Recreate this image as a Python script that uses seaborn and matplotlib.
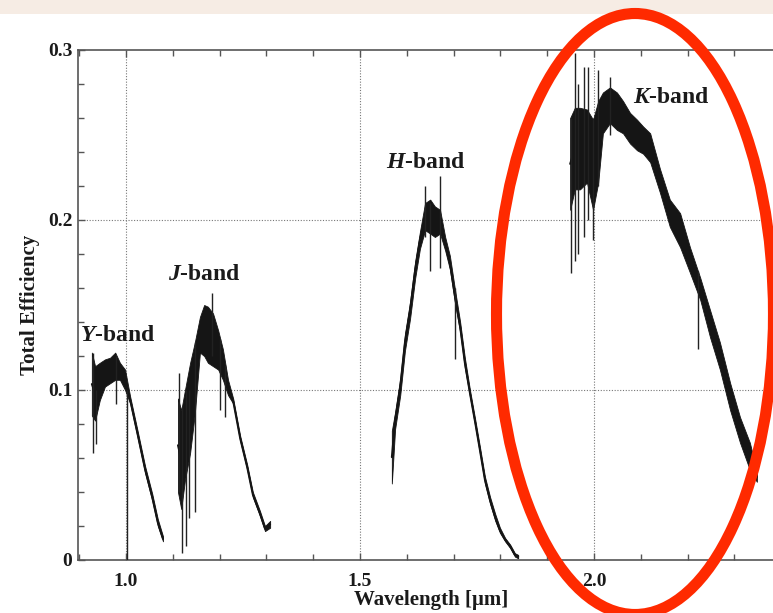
import numpy as np
import pandas as pd
import matplotlib
matplotlib.use("Agg")
import matplotlib.pyplot as plt
from matplotlib.patches import Ellipse, Rectangle
import seaborn as sns

# ---------------- data ----------------
wl_y = [0.927, 0.934, 0.944, 0.955, 0.966, 0.977, 0.987, 0.998, 1.009, 1.024, 1.041, 1.056, 1.068, 1.079]
hi_y = [0.122, 0.114, 0.116, 0.118, 0.119, 0.122, 0.116, 0.112, 0.096, 0.077, 0.055, 0.039, 0.024, 0.014]
lo_y = [0.085, 0.082, 0.094, 0.102, 0.104, 0.106, 0.106, 0.100, 0.092, 0.073, 0.051, 0.035, 0.020, 0.011]

wl_j = [1.111, 1.118, 1.126, 1.137, 1.147, 1.158, 1.167, 1.175, 1.186, 1.197, 1.207, 1.218, 1.229,
        1.244, 1.259, 1.271, 1.286, 1.297, 1.308]
hi_j = [0.095, 0.088, 0.100, 0.116, 0.128, 0.143, 0.150, 0.149, 0.145, 0.135, 0.124, 0.106, 0.095,
        0.073, 0.056, 0.040, 0.029, 0.020, 0.023]
lo_j = [0.040, 0.030, 0.047, 0.063, 0.086, 0.122, 0.120, 0.116, 0.114, 0.112, 0.106, 0.097, 0.092,
        0.070, 0.053, 0.037, 0.026, 0.017, 0.019]

wl_h = [1.568, 1.575, 1.586, 1.596, 1.607, 1.618, 1.628, 1.639, 1.650, 1.660, 1.671, 1.682, 1.692,
        1.703, 1.714, 1.724, 1.735, 1.746, 1.756, 1.767, 1.778, 1.789, 1.799, 1.810, 1.821, 1.831, 1.838]
hi_h = [0.076, 0.087, 0.107, 0.133, 0.152, 0.176, 0.193, 0.210, 0.212, 0.208, 0.206, 0.190, 0.179,
        0.159, 0.140, 0.119, 0.100, 0.083, 0.067, 0.049, 0.037, 0.027, 0.019, 0.013, 0.009, 0.004, 0.003]
lo_h = [0.045, 0.077, 0.097, 0.123, 0.142, 0.166, 0.183, 0.194, 0.192, 0.190, 0.192, 0.182, 0.171,
        0.151, 0.134, 0.113, 0.096, 0.079, 0.063, 0.045, 0.033, 0.023, 0.016, 0.011, 0.007, 0.002, 0.001]

wl_k = [1.949, 1.959, 1.970, 1.985, 1.998, 2.009, 2.019, 2.034, 2.049, 2.062, 2.077, 2.092, 2.105,
        2.120, 2.141, 2.162, 2.184, 2.205, 2.227, 2.248, 2.269, 2.291, 2.312, 2.333, 2.348]
hi_k = [0.260, 0.266, 0.266, 0.265, 0.259, 0.270, 0.275, 0.278, 0.275, 0.270, 0.263, 0.259, 0.255,
        0.251, 0.230, 0.212, 0.204, 0.184, 0.166, 0.147, 0.128, 0.104, 0.084, 0.069, 0.052]
lo_k = [0.206, 0.218, 0.218, 0.222, 0.206, 0.222, 0.251, 0.257, 0.253, 0.251, 0.245, 0.241, 0.239,
        0.234, 0.216, 0.196, 0.184, 0.169, 0.153, 0.131, 0.112, 0.088, 0.069, 0.053, 0.046]

# isolated noise spikes: wavelength, bottom, top
spk_wl = [0.929, 0.936, 0.978, 1.002, 1.113, 1.120, 1.128, 1.134, 1.147, 1.184, 1.201, 1.211,
          1.639, 1.650, 1.671, 1.703, 1.950, 1.959, 1.966, 1.978, 1.987, 1.998, 2.009, 2.034, 2.222]
spk_lo = [0.063, 0.068, 0.092, 0.000, 0.040, 0.004, 0.008, 0.025, 0.028, 0.120, 0.088, 0.084,
          0.190, 0.170, 0.172, 0.118, 0.169, 0.176, 0.180, 0.190, 0.200, 0.188, 0.220, 0.250, 0.124]
spk_hi = [0.122, 0.100, 0.120, 0.100, 0.110, 0.090, 0.100, 0.100, 0.128, 0.157, 0.130, 0.115,
          0.220, 0.210, 0.226, 0.160, 0.260, 0.298, 0.280, 0.290, 0.290, 0.260, 0.288, 0.284, 0.170]

band_names = ["Y", "J", "H", "K"]
band_label_x = [0.902, 1.090, 1.556, 2.083]
band_label_y = [0.132, 0.168, 0.234, 0.272]

x_ticks = [1.0, 1.5, 2.0]
x_tick_labels = ["1.0", "1.5", "2.0"]
y_ticks = [0.0, 0.1, 0.2, 0.3]
y_tick_labels = ["0", "0.1", "0.2", "0.3"]

# ---------------- build table ----------------
bands = {"Y": (wl_y, lo_y, hi_y), "J": (wl_j, lo_j, hi_j),
         "H": (wl_h, lo_h, hi_h), "K": (wl_k, lo_k, hi_k)}
rows = []
for name, (w, lo, hi) in bands.items():
    for a, b, c in zip(w, lo, hi):
        rows.append({"band": name, "wl": a, "lo": b, "hi": c, "mid": (b + c) / 2})
df = pd.DataFrame(rows)

# ---------------- style ----------------
sns.set_theme(style="ticks")
plt.rcParams["font.family"] = ["Liberation Serif", "DejaVu Serif"]
plt.rcParams["font.weight"] = "bold"
plt.rcParams["mathtext.fontset"] = "custom"
plt.rcParams["mathtext.rm"] = "Liberation Serif:bold"
plt.rcParams["mathtext.it"] = "Liberation Serif:italic:bold"
plt.rcParams["mathtext.bf"] = "Liberation Serif:bold"

W, H = 773, 613
fig = plt.figure(figsize=(W / 100, H / 100), dpi=100)
fig.patch.set_facecolor("white")

# beige strip on top
fig.patches.append(Rectangle((0, 1 - 14 / H), 1, 14 / H, transform=fig.transFigure,
                             facecolor="#f6ece4", edgecolor="none", zorder=0))

ax_left, ax_right, ax_top, ax_bot = 78, 785, 50, 560
ax = fig.add_axes([ax_left / W, 1 - ax_bot / H, (ax_right - ax_left) / W, (ax_bot - ax_top) / H])

x0 = 1.0 + (ax_left - 126) / 468
x1 = 1.0 + (ax_right - 126) / 468
ax.set_xlim(x0, x1)
ax.set_ylim(0, 0.3)

# grid
for xv in x_ticks:
    ax.axvline(xv, color="#777777", ls=(0, (1, 1.5)), lw=0.8, zorder=0)
for yv in y_ticks[1:3]:
    ax.axhline(yv, color="#777777", ls=(0, (1, 1.5)), lw=0.8, zorder=0)

# spectra
for name in band_names:
    d = df[df["band"] == name]
    ax.fill_between(d["wl"], d["lo"], d["hi"], color="#151515", lw=0.6,
                    edgecolor="#151515", zorder=2)
sns.lineplot(data=df, x="wl", y="mid", units="band", estimator=None, color="#151515",
             lw=1.4, ax=ax, zorder=3, legend=False)
ax.vlines(spk_wl, spk_lo, spk_hi, color="#222222", lw=1.0, zorder=3)

# band labels
for name, lx, ly in zip(band_names, band_label_x, band_label_y):
    ax.text(lx, ly, r"$\mathit{" + name + "}$-band", fontsize=17, fontweight="bold",
            ha="left", va="center", color="#1a1a1a", zorder=5)

# axes styling
ax.set_xticks(x_ticks)
ax.set_xticklabels(x_tick_labels)
ax.set_yticks(y_ticks)
ax.set_yticklabels(y_tick_labels)
ax.set_xticks(np.arange(0.9, 2.45, 0.1), minor=True)
ax.set_yticks(np.arange(0, 0.301, 0.02), minor=True)
ax.tick_params(axis="both", which="both", direction="in", color="#555555",
               labelsize=14, labelcolor="#1a1a1a")
ax.tick_params(axis="x", which="both", top=True, pad=9)
ax.tick_params(axis="y", which="both", pad=4)
ax.tick_params(which="major", length=5, width=1.0)
ax.tick_params(which="minor", length=4, width=1.0)
for lab in ax.get_xticklabels() + ax.get_yticklabels():
    lab.set_fontweight("bold")
for s in ["left", "bottom", "top"]:
    ax.spines[s].set_color("#555555")
    ax.spines[s].set_linewidth(1.2)
ax.spines["right"].set_visible(False)

ax.set_xlabel(r"Wavelength [μm]", fontsize=15, fontweight="bold", color="#1a1a1a")
ax.xaxis.set_label_coords(0.5, -(600 - ax_bot) / (ax_bot - ax_top))
ax.xaxis.label.set_va("center")
ax.set_ylabel("Total Efficiency", fontsize=15, fontweight="bold", color="#1a1a1a")
ax.yaxis.set_label_coords(-(ax_left - 30) / (ax_right - ax_left), 0.5)
ax.yaxis.label.set_va("center")

# red highlight ellipse
fig.patches.append(Ellipse((635 / W, 1 - 314 / H), 277 / W, 601 / H, transform=fig.transFigure,
                           facecolor="none", edgecolor="#ff2a00", lw=8.0, zorder=10))

fig.savefig("out.png", dpi=100)
